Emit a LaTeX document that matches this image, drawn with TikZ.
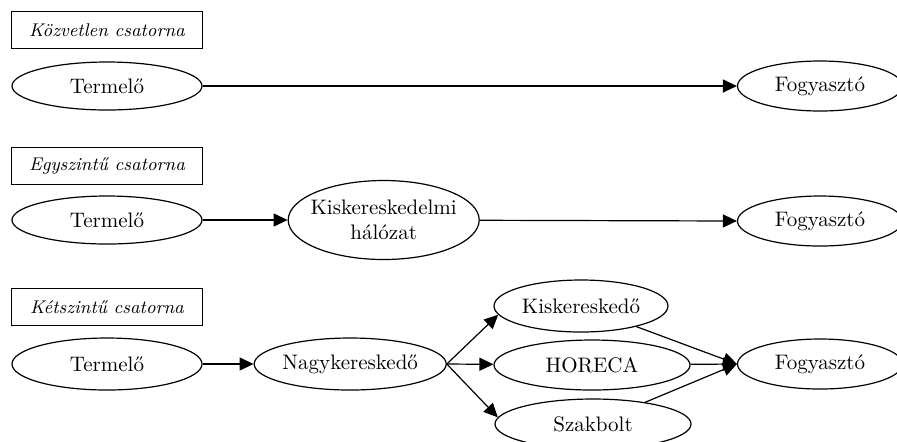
\documentclass[tikz,border=0pt]{standalone}
\usepackage{fontspec}
\usepackage{tikz}
\usetikzlibrary{shapes.geometric, positioning, arrows.meta}

\begin{document}
\begin{tikzpicture}[
    x=1pt, y=-1pt,
    font=\fontsize{10.5}{12.5}\selectfont,
    rowlabel/.style={rectangle, draw, line width=0.6pt, minimum width=95.5pt, minimum height=18.5pt, inner sep=0pt, font=\fontsize{9.2}{11}\selectfont\itshape},
    actor/.style={ellipse, draw, line width=0.6pt, inner sep=0pt, align=center, minimum height=25pt},
    arrow/.style={-{Triangle[length=7pt,width=6.5pt]}, line width=0.6pt}
]
\useasboundingbox (0,0) rectangle (448.5,220.5);
\clip (0,0) rectangle (448.5,220.5);

% Row 1: direct channel
\node[actor, minimum width=95pt, minimum height=24pt] (term1) at (53.5,43) {Termelő};
\node[rowlabel, above=6pt of term1] (kozv) {Közvetlen csatorna};
\node[actor, minimum width=82.5pt] (fogy1) at (410,43) {Fogyasztó};

% Row 2: one level channel
\node[actor, minimum width=95pt, minimum height=24pt] (term2) at (53.5,110) {Termelő};
\node[rowlabel, above=5pt of term2] (egysz) {Egyszintű csatorna};
\node[actor, minimum width=95.5pt, minimum height=39.5pt, inner xsep=-3pt, right=42.5pt of term2] (kiskh) {Kiskereskedelmi\\hálózat};
\node[actor, minimum width=82.5pt] (fogy2) at (410,110.5) {Fogyasztó};

% Row 3: two level channel
\node[actor, minimum width=95pt, minimum height=26pt] (term3) at (53.5,182) {Termelő};
\node[rowlabel, above=5.5pt of term3] (ketsz) {Kétszintű csatorna};
\node[actor, minimum width=96pt, minimum height=26pt, right=25.5pt of term3] (nagy) {Nagykereskedő};
\node[actor, minimum width=98pt] (horeca) at (296,182.5) {HORECA};
\node[actor, minimum width=87pt, minimum height=26pt] (kisk) at (290.5,153) {Kiskereskedő};
\node[actor, minimum width=98pt] (szak) at (296.5,212) {Szakbolt};
\node[actor, minimum width=82.5pt] (fogy3) at (410,182) {Fogyasztó};

% Connecting arrows
\draw[arrow] (term1) -- (fogy1);

\draw[arrow] (term2) -- (kiskh);
\draw[arrow] (kiskh) -- (fogy2.west);

\draw[arrow] (term3) -- (nagy);
\draw[arrow] (nagy.east) -- (kisk.186);
\draw[arrow] (nagy.east) -- (horeca);
\draw[arrow] (nagy.east) -- (szak.176);
\draw[arrow] (kisk) -- (fogy3.west);
\draw[arrow] (horeca) -- (fogy3.west);
\draw[arrow] (szak) -- (fogy3.west);

\end{tikzpicture}
\end{document}
